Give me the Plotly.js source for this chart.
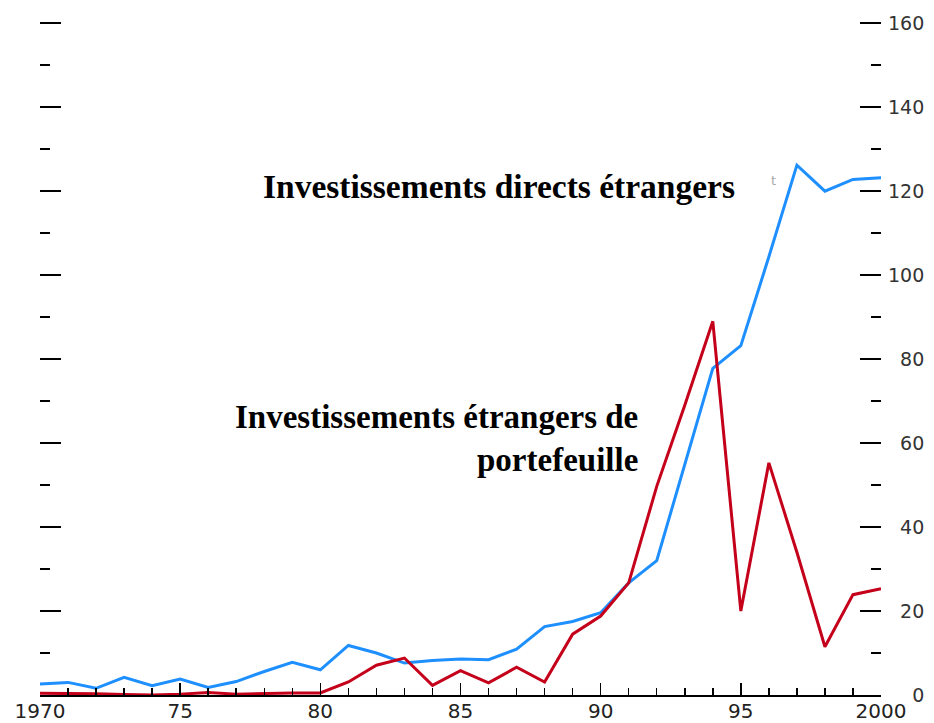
<!DOCTYPE html>
<html>
<head>
<meta charset="utf-8">
<script src="https://cdn.plot.ly/plotly-3.0.1.min.js"></script>
<style>html,body{margin:0;padding:0;background:#fff;}#chart{width:934px;height:723px;}</style>
</head>
<body>
<div id="chart"></div>
<script>
const years = [1970,1971,1972,1973,1974,1975,1976,1977,1978,1979,1980,1981,1982,1983,1984,1985,1986,1987,1988,1989,1990,1991,1992,1993,1994,1995,1996,1997,1998,1999,2000];
const ideValues = [2.6,3.0,1.6,4.2,2.2,3.8,1.8,3.2,5.6,7.8,6.0,11.8,10.0,7.6,8.2,8.6,8.4,10.9,16.3,17.5,19.6,26.7,32.0,54.9,77.8,83.2,104.4,126.2,120.0,122.8,123.2];
const iepValues = [0.4,0.4,0.3,0.1,0.0,0.2,0.6,0.2,0.4,0.5,0.5,3.1,7.1,8.8,2.3,5.8,2.9,6.6,3.1,14.5,18.8,26.7,49.7,69.0,89.0,20.0,55.3,34.0,11.5,23.9,25.3];
const xTickVals = [1970,1975,1980,1985,1990,1995,2000];
const xTickText = ["1970","75","80","85","90","95","2000"];
const yTickVals = [0,20,40,60,80,100,120,140,160];
const yTickText = ["\u2007\u20070","\u200720","\u200740","\u200760","\u200780","100","120","140","160"];
const labelIDE = "Investissements directs étrangers";
const labelIEP = "Investissements étrangers de<br>portefeuille";

const traces = [
  {x: years, y: ideValues, type: 'scatter', mode: 'lines', line: {color: '#1e8fff', width: 3}, hoverinfo: 'x+y'},
  {x: years, y: iepValues, type: 'scatter', mode: 'lines', line: {color: '#c4001a', width: 3}, hoverinfo: 'x+y'},
  {x: [1970, 2000], y: [0, 0], yaxis: 'y2', type: 'scatter', mode: 'lines', line: {width: 0}, hoverinfo: 'skip', opacity: 0}
];

const layout = {
  width: 934, height: 723,
  margin: {l: 40, r: 53, t: 22, b: 28},
  paper_bgcolor: '#fff', plot_bgcolor: '#fff',
  showlegend: false,
  xaxis: {
    range: [1970, 2000],
    showgrid: false, zeroline: false,
    showline: true, linecolor: '#000', linewidth: 2,
    ticks: 'inside', ticklen: 12, tickwidth: 1.5, tickcolor: '#000',
    tickvals: xTickVals, ticktext: xTickText,
    minor: {ticks: 'inside', ticklen: 7, dtick: 1, tickcolor: '#000', tickwidth: 1.5, showgrid: false},
    ticklabelstandoff: -3,
    tickfont: {family: 'DejaVu Sans, sans-serif', size: 20, color: '#222'}
  },
  yaxis: {
    range: [0, 160.3],
    showgrid: false, zeroline: false, showline: false,
    ticks: 'inside', ticklen: 21, tickwidth: 1.8, tickcolor: '#000',
    tickvals: yTickVals, showticklabels: false,
    minor: {ticks: 'inside', ticklen: 10, dtick: 10, tickcolor: '#000', tickwidth: 1.8, showgrid: false}
  },
  yaxis2: {
    range: [0, 160.3], overlaying: 'y', side: 'right',
    showgrid: false, zeroline: false, showline: false,
    ticks: 'inside', ticklen: 21, tickwidth: 1.8, tickcolor: '#000',
    tickvals: yTickVals, ticktext: yTickText,
    minor: {ticks: 'inside', ticklen: 10, dtick: 10, tickcolor: '#000', tickwidth: 1.8, showgrid: false},
    ticklabelstandoff: 6,
    tickfont: {family: 'DejaVu Sans, sans-serif', size: 19, color: '#333'}
  },
  annotations: [
    {x: 1994.87, y: 121.2, xref: 'x', yref: 'y', xanchor: 'right', yanchor: 'middle', showarrow: false,
     text: '<b>' + labelIDE + '</b>', font: {family: 'Liberation Serif, Times New Roman, serif', size: 33.5, color: '#000'}},
    {x: 1991.41, y: 61.2, xref: 'x', yref: 'y', xanchor: 'right', yanchor: 'middle', align: 'right', showarrow: false,
     text: '<b>' + labelIEP + '</b>', font: {family: 'Liberation Serif, Times New Roman, serif', size: 33, color: '#000'}},
    {x: 1996.15, y: 122.6, xref: 'x', yref: 'y', showarrow: false, text: 't',
     font: {family: 'DejaVu Sans, sans-serif', size: 13, color: '#aaa'}}
  ]
};

Plotly.newPlot('chart', traces, layout, {staticPlot: true, displayModeBar: false});
</script>
</body>
</html>
